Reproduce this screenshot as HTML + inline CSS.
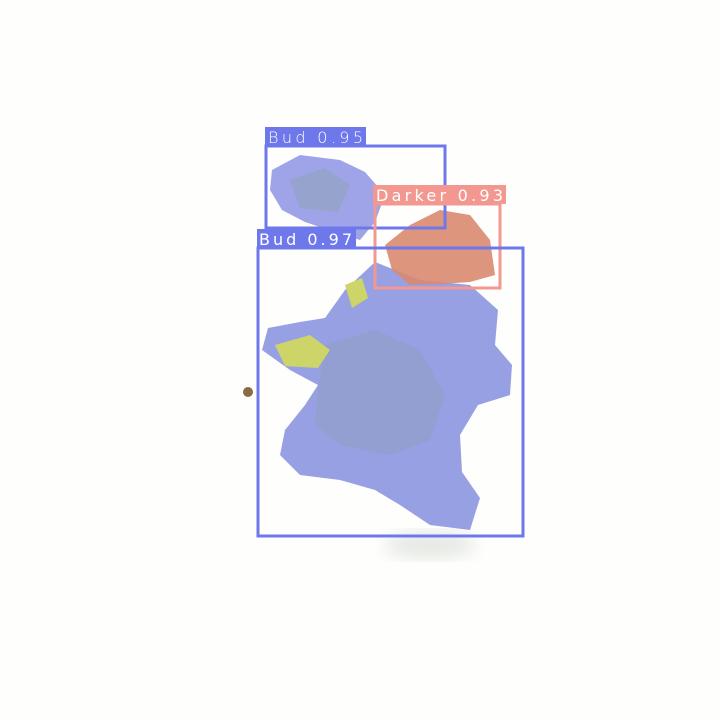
<!DOCTYPE html>
<html><head><meta charset="utf-8"><style>
html,body{margin:0;padding:0;background:#fff;}
svg{display:block}
text{font-family:"DejaVu Sans","Liberation Sans",sans-serif;}
</style></head><body>
<svg width="720" height="720" viewBox="0 0 720 720">
<defs>
<filter id="blur"><feGaussianBlur stdDeviation="8"/></filter>
</defs>
<rect width="720" height="720" fill="#fefefd"/>
<ellipse cx="430" cy="545" rx="45" ry="14" fill="#e6e9e4" filter="url(#blur)"/>
<circle cx="248" cy="392" r="5" fill="#8a6a44"/>
<g>
<path d="M272 170 L300 155 L340 160 L365 172 L385 195 L375 222 L360 240 L335 232 L305 222 L282 210 L270 190 Z" fill="#939ae4" opacity="0.9"/>
<path d="M290 180 L325 168 L350 185 L338 212 L300 208 Z" fill="#8ea3b8" opacity="0.55"/>
</g>
<g>
<path d="M325 318 L345 290 L375 262 L420 280 L470 285 L498 310 L495 345 L512 365 L510 395 L478 405 L460 435 L462 472 L480 498 L470 530 L430 525 L400 505 L375 490 L340 480 L300 475 L280 455 L285 430 L305 405 L318 385 L290 370 L262 350 L268 328 L300 322 Z" fill="#8f98e2" opacity="0.92"/>
<path d="M325 345 L375 330 L420 350 L445 395 L430 440 L390 455 L340 445 L315 425 L318 390 Z" fill="#8c9eb8" opacity="0.45"/>
<path d="M275 345 L310 335 L330 350 L318 368 L285 366 Z" fill="#cdd468"/>
<path d="M345 285 L362 278 L368 298 L352 308 Z" fill="#cdd468"/>
</g>
<g>
<path d="M385 245 L410 225 L440 210 L470 215 L490 240 L495 275 L470 282 L440 284 L410 285 L392 270 Z" fill="#d98a70" opacity="0.9"/>
</g>
<g>
<rect x="266" y="146" width="179" height="82" fill="none" stroke="#6f78ea" stroke-width="3"/>
<rect x="265" y="127" width="101" height="19" fill="#6f78ea"/>
<text x="268" y="143" font-size="16" fill="#fff" font-weight="300" textLength="95">Bud 0.95</text>
</g>
<g>
<rect x="375" y="204" width="125" height="84" fill="none" stroke="#f29891" stroke-width="3"/>
<rect x="373" y="185" width="133" height="19" fill="#f29891"/>
<text x="376" y="201" font-size="16" fill="#fff" textLength="127">Darker 0.93</text>
</g>
<g>
<rect x="258" y="248" width="265" height="288" fill="none" stroke="#6f78ea" stroke-width="3"/>
<rect x="257" y="229" width="99" height="19" fill="#6f78ea"/>
<text x="259" y="245" font-size="16" fill="#fff" textLength="93">Bud 0.97</text>
</g>
</svg>
</body></html>
